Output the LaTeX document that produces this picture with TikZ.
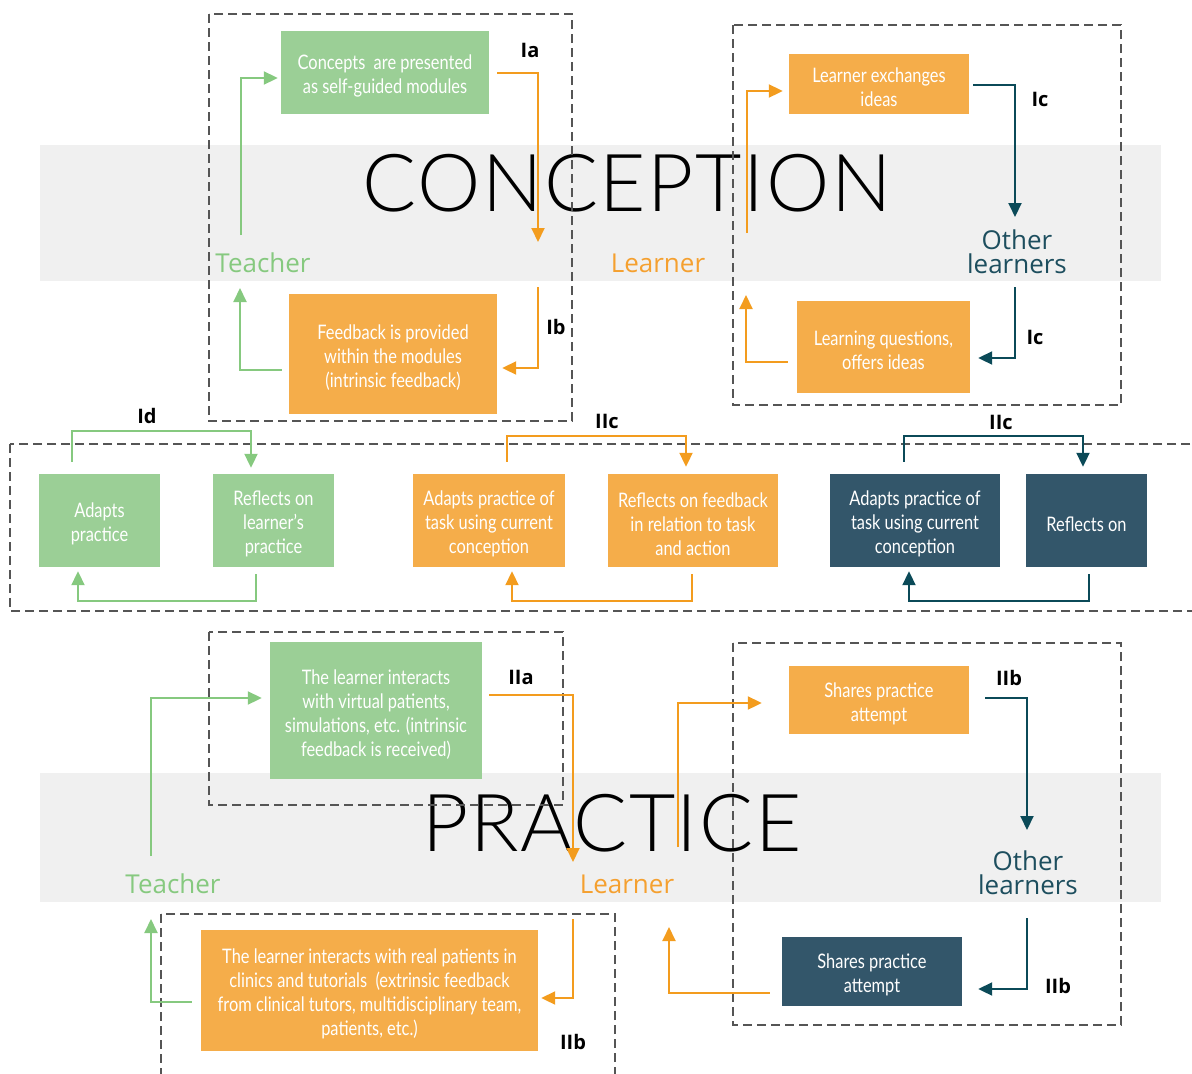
\documentclass[tikz,border=0pt]{standalone}
\usepackage{fontspec}
\setmainfont{Open Sans}
\newfontfamily\boxfont[FakeStretch=0.82]{Lato}
\newfontfamily\titlefont[LetterSpace=2]{Lato Light}
\usetikzlibrary{arrows.meta,positioning}

\definecolor{gbox}{HTML}{9BCF96}
\definecolor{garrow}{HTML}{86C97F}
\definecolor{obox}{HTML}{F5AD4A}
\definecolor{oarrow}{HTML}{F39C1E}
\definecolor{otext}{HTML}{F5A02F}
\definecolor{dbox}{HTML}{33566A}
\definecolor{darrow}{HTML}{0B4A58}
\definecolor{dtext}{HTML}{1D4E5E}
\definecolor{band}{HTML}{F0F0F0}
\definecolor{dashgray}{HTML}{555555}

% taller first line, so box text sits a little low as in the original
\newcommand\lowtext{\rule{0pt}{22pt}}

\tikzset{
  stage/.style={rectangle, inner sep=0pt, text=white, align=center,
    font=\boxfont\fontsize{20}{24}\selectfont},
  greenbox/.style={stage, fill=gbox},
  orangebox/.style={stage, fill=obox},
  darkbox/.style={stage, fill=dbox},
  tip/.style={-{Triangle[length=14pt,width=13pt]}},
  garr/.style={draw=garrow, line width=2pt, tip},
  oarr/.style={draw=oarrow, line width=2pt, tip},
  darr/.style={draw=darrow, line width=2pt, tip},
  framebox/.style={draw=dashgray, line width=2.5pt, dash pattern=on 9pt off 5pt},
  who/.style={inner sep=0pt, align=center, font=\fontsize{26}{24}\selectfont},
  tag/.style={inner sep=0pt, font=\bfseries\fontsize{20}{24}\selectfont},
  bigword/.style={inner sep=0pt, font=\titlefont\fontsize{80}{80}\selectfont}
}

\begin{document}
\begin{tikzpicture}[x=1pt,y=-1pt]
  \clip (0,0) rectangle (1192,1074);
  \useasboundingbox (0,0) rectangle (1192,1074);

  % grey bands and the two stage words
  \fill[band] (40,145) rectangle (1161,281);
  \fill[band] (40,773) rectangle (1161,902);
  \node[bigword] (conception) at (627,183) {CONCEPTION};
  \node[bigword] (practice) at (612,823) {PRACTICE};

  % dashed frames
  \draw[framebox] (209,14) rectangle (572,421);
  \draw[framebox] (733,25) rectangle (1121,405);
  \draw[framebox] (10,444) rectangle (1210,611);
  \draw[framebox] (209,632) rectangle (563,805);
  \draw[framebox] (161,914) rectangle (615,1090);
  \draw[framebox] (733,643) rectangle (1121,1025);

  % actors
  \node[who, text=garrow] (teacherA) at (263,263) {Teacher};
  \node[who, text=otext] (learnerA) at (658,263) {Learner};
  \node[who, text=dtext] (othersA) at (1017,252) {Other\\learners};
  \node[who, text=garrow] (teacherB) at (173,884) {Teacher};
  \node[who, text=otext] (learnerB) at (627,884) {Learner};
  \node[who, text=dtext] (othersB) at (1028,873) {Other\\learners};

  % conception boxes
  \node[greenbox, minimum width=208pt, minimum height=83pt] (concepts) at (385,72.5)
    {\lowtext Concepts\ \ are presented\\as self-guided modules};
  \node[orangebox, minimum width=208pt, minimum height=120pt] (feedback) at (393,354)
    {\lowtext Feedback is provided\\within the modules\\(intrinsic feedback)};
  \node[orangebox, minimum width=180pt, minimum height=60pt] (exch) at (879,84)
    {\lowtext Learner exchanges\\ideas};
  \node[orangebox, minimum width=173pt, minimum height=92pt] (questions) at (883.5,347)
    {\lowtext Learning questions,\\offers ideas};

  % middle row
  \node[greenbox, minimum width=121pt, minimum height=93pt] (adaptG) at (99.5,520.5)
    {\lowtext Adapts\\practice};
  \node[greenbox, minimum width=121pt, minimum height=93pt] (reflG) at (273.5,520.5)
    {\lowtext Reflects on\\learner’s\\practice};
  \node[orangebox, minimum width=152pt, minimum height=93pt] (adaptO) at (489,520.5)
    {\lowtext Adapts practice of\\task using current\\conception};
  \node[orangebox, minimum width=170pt, minimum height=93pt] (reflO) at (693,520.5)
    {\lowtext Reflects on feedback\\in relation to task\\and action};
  \node[darkbox, minimum width=170pt, minimum height=93pt] (adaptD) at (915,520.5)
    {\lowtext Adapts practice of\\task using current\\conception};
  \node[darkbox, minimum width=121pt, minimum height=93pt] (reflD) at (1086.5,520.5)
    {\lowtext Reflects on};

  % practice boxes
  \node[greenbox, minimum width=212pt, minimum height=137pt] (virtual) at (376,710.5)
    {\lowtext The learner interacts\\with virtual patients,\\simulations, etc. (intrinsic\\feedback is received)};
  \node[orangebox, minimum width=337pt, minimum height=121pt] (real) at (369.5,990.5)
    {\lowtext The learner interacts with real patients in\\clinics and tutorials\ \ (extrinsic feedback\\from clinical tutors, multidisciplinary team,\\patients, etc.)};
  \node[orangebox, minimum width=180pt, minimum height=68pt] (sharesO) at (879,700)
    {\lowtext Shares practice\\attempt};
  \node[darkbox, minimum width=180pt, minimum height=69pt] (sharesD) at (872,971.5)
    {\lowtext Shares practice\\attempt};

  % loose ends of the loops
  \coordinate (tA1) at (241,235);
  \coordinate (tA2) at (240,288);
  \coordinate (iaTip) at (538,242);
  \coordinate (ibStart) at (538,287);
  \coordinate (lA1) at (747,233);
  \coordinate (lA2) at (746,295);
  \coordinate (oA1) at (1015,217);
  \coordinate (oA2) at (1015,287);
  \coordinate (tB1) at (151,856);
  \coordinate (tB2) at (151,919);
  \coordinate (lB1) at (573,862);
  \coordinate (lB2) at (573,919);
  \coordinate (lB3) at (678,847);
  \coordinate (lB4) at (669,927);
  \coordinate (oB1) at (1027,830);
  \coordinate (oB2) at (1027,918);

  % conception loops
  \draw[garr] (tA1) |- ([xshift=-3pt,yshift=-5.5pt]concepts.west);
  \draw[garr] ([xshift=-7pt,yshift=-16pt]feedback.west) -| (tA2);
  \draw[oarr] ([xshift=8pt]concepts.east) -| (iaTip);
  \draw[oarr] (ibStart) |- ([xshift=5pt,yshift=-14pt]feedback.east);
  \draw[oarr] (lA1) |- ([xshift=-6pt,yshift=-7pt]exch.west);
  \draw[darr] ([xshift=4pt,yshift=-1pt]exch.east) -| (oA1);
  \draw[darr] (oA2) |- ([xshift=8pt,yshift=-11pt]questions.east);
  \draw[oarr] ([xshift=-9pt,yshift=-15pt]questions.west) -| (lA2);

  % middle loops
  \draw[garr] ([xshift=-27.5pt,yshift=12pt]adaptG.north) -- ++(0,-31)
    -| ([xshift=-22.5pt,yshift=6pt]reflG.north);
  \draw[garr] ([xshift=-17.5pt,yshift=-7pt]reflG.south) -- ++(0,27)
    -| ([xshift=-21.5pt,yshift=-4pt]adaptG.south);
  \draw[oarr] ([xshift=18pt,yshift=12pt]adaptO.north) -- ++(0,-26)
    -| ([xshift=-7pt,yshift=7pt]reflO.north);
  \draw[oarr] ([xshift=-1pt,yshift=-7pt]reflO.south) -- ++(0,27)
    -| ([xshift=23pt,yshift=-4pt]adaptO.south);
  \draw[darr] ([xshift=-11pt,yshift=12pt]adaptD.north) -- ++(0,-26)
    -| ([xshift=-3.5pt,yshift=7pt]reflD.north);
  \draw[darr] ([xshift=2.5pt,yshift=-7pt]reflD.south) -- ++(0,27)
    -| ([xshift=-6pt,yshift=-4pt]adaptD.south);

  % practice loops
  \draw[garr] (tB1) |- ([xshift=-8pt,yshift=12.5pt]virtual.west);
  \draw[oarr] ([xshift=7pt,yshift=15.5pt]virtual.east) -| (lB1);
  \draw[oarr] (lB2) |- ([xshift=3pt,yshift=-7.5pt]real.east);
  \draw[garr] ([xshift=-9pt,yshift=-11.5pt]real.west) -| (tB2);
  \draw[oarr] (lB3) |- ([xshift=-27pt,yshift=-3pt]sharesO.west);
  \draw[darr] ([xshift=16pt,yshift=2pt]sharesO.east) -| (oB1);
  \draw[darr] (oB2) |- ([xshift=16pt,yshift=-17.5pt]sharesD.east);
  \draw[oarr] ([xshift=-12pt,yshift=-21.5pt]sharesD.west) -| (lB4);

  % loop tags
  \node[tag] (ia) at (530,50) {Ia};
  \node[tag] (ib) at (556,327) {Ib};
  \node[tag] (ic1) at (1040,99) {Ic};
  \node[tag] (ic2) at (1035,337) {Ic};
  \node[tag] (id) at (147,416) {Id};
  \node[tag] (iic1) at (607,421) {IIc};
  \node[tag] (iic2) at (1001,422) {IIc};
  \node[tag] (iia) at (521,677) {IIa};
  \node[tag] (iib1) at (1009,678) {IIb};
  \node[tag] (iib2) at (1058,986) {IIb};
  \node[tag] (iib3) at (573,1042) {IIb};
\end{tikzpicture}
\end{document}
